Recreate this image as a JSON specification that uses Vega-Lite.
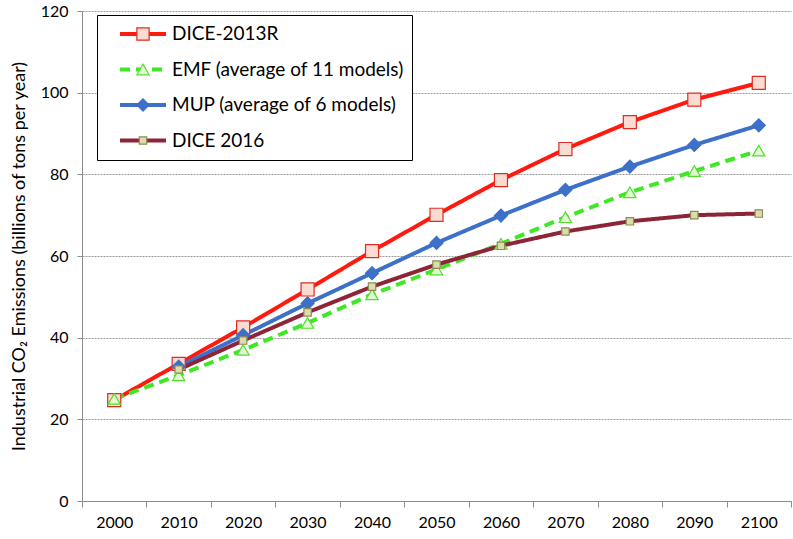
{
  "$schema": "https://vega.github.io/schema/vega-lite/v6.json",
  "width": 709,
  "height": 490,
  "autosize": {"type": "none"},
  "padding": {"left": 82, "top": 11, "right": 2, "bottom": 38},
  "background": "white",
  "config": {
    "font": "Lato",
    "view": {"stroke": null}
  },
  "data": {
    "values": [
      {"year": "2000", "series": "DICE-2013R", "value": 24.7},
      {"year": "2010", "series": "DICE-2013R", "value": 33.6},
      {"year": "2020", "series": "DICE-2013R", "value": 42.5},
      {"year": "2030", "series": "DICE-2013R", "value": 51.8},
      {"year": "2040", "series": "DICE-2013R", "value": 61.2},
      {"year": "2050", "series": "DICE-2013R", "value": 70.1},
      {"year": "2060", "series": "DICE-2013R", "value": 78.6},
      {"year": "2070", "series": "DICE-2013R", "value": 86.2},
      {"year": "2080", "series": "DICE-2013R", "value": 92.8},
      {"year": "2090", "series": "DICE-2013R", "value": 98.3},
      {"year": "2100", "series": "DICE-2013R", "value": 102.4},
      {"year": "2000", "series": "EMF (average of 11 models)", "value": 25.0},
      {"year": "2010", "series": "EMF (average of 11 models)", "value": 30.8},
      {"year": "2020", "series": "EMF (average of 11 models)", "value": 37.0},
      {"year": "2030", "series": "EMF (average of 11 models)", "value": 43.6},
      {"year": "2040", "series": "EMF (average of 11 models)", "value": 50.6},
      {"year": "2050", "series": "EMF (average of 11 models)", "value": 56.7},
      {"year": "2060", "series": "EMF (average of 11 models)", "value": 63.0},
      {"year": "2070", "series": "EMF (average of 11 models)", "value": 69.5},
      {"year": "2080", "series": "EMF (average of 11 models)", "value": 75.6},
      {"year": "2090", "series": "EMF (average of 11 models)", "value": 80.8},
      {"year": "2100", "series": "EMF (average of 11 models)", "value": 85.8},
      {"year": "2010", "series": "MUP (average of 6 models)", "value": 32.9},
      {"year": "2020", "series": "MUP (average of 6 models)", "value": 40.6},
      {"year": "2030", "series": "MUP (average of 6 models)", "value": 48.4},
      {"year": "2040", "series": "MUP (average of 6 models)", "value": 55.8},
      {"year": "2050", "series": "MUP (average of 6 models)", "value": 63.2},
      {"year": "2060", "series": "MUP (average of 6 models)", "value": 69.9},
      {"year": "2070", "series": "MUP (average of 6 models)", "value": 76.2},
      {"year": "2080", "series": "MUP (average of 6 models)", "value": 81.9},
      {"year": "2090", "series": "MUP (average of 6 models)", "value": 87.2},
      {"year": "2100", "series": "MUP (average of 6 models)", "value": 92.0},
      {"year": "2010", "series": "DICE 2016", "value": 32.2},
      {"year": "2020", "series": "DICE 2016", "value": 39.3},
      {"year": "2030", "series": "DICE 2016", "value": 46.2},
      {"year": "2040", "series": "DICE 2016", "value": 52.5},
      {"year": "2050", "series": "DICE 2016", "value": 57.9},
      {"year": "2060", "series": "DICE 2016", "value": 62.5},
      {"year": "2070", "series": "DICE 2016", "value": 66.0},
      {"year": "2080", "series": "DICE 2016", "value": 68.5},
      {"year": "2090", "series": "DICE 2016", "value": 70.0},
      {"year": "2100", "series": "DICE 2016", "value": 70.4}
    ]
  },
  "transform": [{"calculate": "datum.series", "as": "m"}],
  "encoding": {
    "x": {
      "field": "year",
      "type": "ordinal",
      "scale": {"type": "band", "paddingInner": 0, "paddingOuter": 0},
      "axis": {
        "title": null,
        "labelAngle": 0,
        "tickBand": "extent",
        "grid": false,
        "domainColor": "#8c8c8c",
        "tickColor": "#8c8c8c",
        "tickSize": 6,
        "labelFont": "Lato",
        "labelFontSize": 16,
        "labelColor": "black",
        "labelPadding": 7
      }
    },
    "y": {
      "field": "value",
      "type": "quantitative",
      "scale": {"domain": [0, 120], "nice": false, "zero": true},
      "axis": {
        "values": [0, 20, 40, 60, 80, 100, 120],
        "title": "Industrial CO₂ Emissions (billions of tons per year)",
        "titleFont": "Lato",
        "titleFontSize": 18,
        "titleFontWeight": "normal",
        "titleColor": "black",
        "titlePadding": 12,
        "grid": true,
        "gridColor": "#9a9a9a",
        "gridDash": [2, 1],
        "gridWidth": 1,
        "domainColor": "#8c8c8c",
        "tickColor": "#8c8c8c",
        "tickSize": 5,
        "labelFont": "Lato",
        "labelFontSize": 16,
        "labelColor": "black",
        "labelPadding": 9
      }
    }
  },
  "layer": [
    {
      "mark": {"type": "line", "strokeWidth": 4},
      "encoding": {
        "color": {
          "field": "series",
          "type": "nominal",
          "scale": {
            "domain": ["DICE-2013R", "EMF (average of 11 models)", "MUP (average of 6 models)", "DICE 2016"],
            "range": ["#ff1a0f", "#3ee822", "#3d70c8", "#8e2438"]
          },
          "legend": {
            "title": null,
            "orient": "none",
            "legendX": 15,
            "legendY": 4,
            "symbolType": "stroke",
            "symbolSize": 2116,
            "symbolStrokeWidth": 4,
            "symbolOffset": 14,
            "labelFont": "Lato",
            "labelFontSize": 19,
            "labelColor": "black",
            "labelOffset": 4,
            "strokeColor": "black",
            "fillColor": "white",
            "padding": 7,
            "clipHeight": 24,
            "rowPadding": 11.5,
            "labelLimit": 400
          }
        },
        "strokeDash": {
          "field": "series",
          "type": "nominal",
          "scale": {
            "domain": ["DICE-2013R", "EMF (average of 11 models)", "MUP (average of 6 models)", "DICE 2016"],
            "range": [[1, 0], [10, 6], [1, 0], [1, 0]]
          },
          "legend": {
            "title": null,
            "orient": "none",
            "legendX": 15,
            "legendY": 4,
            "symbolType": "stroke",
            "symbolSize": 2116,
            "symbolStrokeWidth": 4,
            "symbolOffset": 14,
            "labelFont": "Lato",
            "labelFontSize": 19,
            "labelColor": "black",
            "labelOffset": 4,
            "strokeColor": "black",
            "fillColor": "white",
            "padding": 7,
            "clipHeight": 24,
            "rowPadding": 11.5,
            "labelLimit": 400
          }
        }
      }
    },
    {
      "mark": {"type": "point", "filled": true, "strokeWidth": 1.2, "opacity": 1},
      "encoding": {
        "shape": {
          "field": "m",
          "type": "nominal",
          "sort": ["DICE-2013R", "EMF (average of 11 models)", "MUP (average of 6 models)", "DICE 2016"],
          "scale": {
            "range": ["square", "triangle-up", "diamond", "square"]
          },
          "legend": {
            "title": null,
            "orient": "none",
            "legendX": 15,
            "legendY": 4,
            "padding": 7,
            "clipHeight": 24,
            "rowPadding": 11.5,
            "symbolOffset": 32,
            "symbolSize": {"expr": "datum.value === 'DICE 2016' ? 55 : 150"},
            "symbolStrokeWidth": 1.2,
            "symbolOpacity": 1,
            "symbolFillColor": {"expr": "scale('fill', datum.value)"},
            "symbolStrokeColor": {"expr": "scale('stroke', datum.value)"},
            "labelExpr": "''",
            "zindex": 1
          }
        },
        "fill": {
          "field": "m",
          "type": "nominal",
          "sort": ["DICE-2013R", "EMF (average of 11 models)", "MUP (average of 6 models)", "DICE 2016"],
          "scale": {
            "range": ["#fcdcd0", "#e4f8d4", "#3d70c8", "#dcdcac"]
          },
          "legend": null
        },
        "stroke": {
          "field": "m",
          "type": "nominal",
          "sort": ["DICE-2013R", "EMF (average of 11 models)", "MUP (average of 6 models)", "DICE 2016"],
          "scale": {
            "range": ["#e02a22", "#4ee02a", "#3d70c8", "#8c8c55"]
          },
          "legend": null
        },
        "size": {
          "field": "m",
          "type": "nominal",
          "sort": ["DICE-2013R", "EMF (average of 11 models)", "MUP (average of 6 models)", "DICE 2016"],
          "scale": {
            "type": "ordinal",
            "range": [170, 150, 170, 55]
          },
          "legend": null
        }
      }
    }
  ]
}
